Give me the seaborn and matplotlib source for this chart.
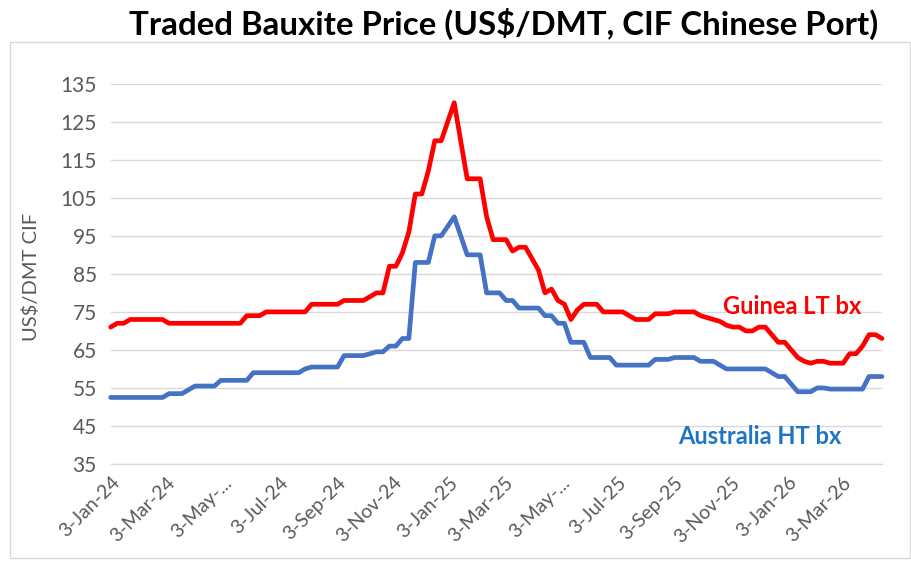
import matplotlib
matplotlib.use("Agg")
import matplotlib.pyplot as plt
import seaborn as sns
import pandas as pd
import numpy as np
from matplotlib.patches import Rectangle

# ---------------- data ----------------
start_date = "2024-01-03"
n_weeks = 120

guinea = [71, 72, 72, 73, 73, 73, 73, 73, 73,
          72, 72, 72, 72, 72, 72, 72, 72, 72, 72, 72, 72,
          74, 74, 74,
          75, 75, 75, 75, 75, 75, 75,
          77, 77, 77, 77, 77,
          78, 78, 78, 78,
          79, 80, 80,
          87, 87, 90.5, 96, 106, 106, 112, 120, 120, 125, 130, 120,
          110, 110, 110, 100, 94, 94, 94, 91, 92, 92, 89, 86, 80, 81, 78, 77, 73, 75.5,
          77, 77, 77, 75, 75, 75, 75, 74, 73, 73, 73,
          74.5, 74.5, 74.5, 75, 75, 75, 75, 74, 73.5, 73, 72.5, 71.5,
          71, 71, 70, 70, 71, 71, 69, 67, 67, 65, 63, 62, 61.5,
          62, 62, 61.5, 61.5, 61.5, 64, 64, 66, 69, 69, 68]

australia = [52.5, 52.5, 52.5, 52.5, 52.5, 52.5, 52.5, 52.5, 52.5,
             53.5, 53.5, 53.5,
             54.5,
             55.5, 55.5, 55.5, 55.5,
             57, 57, 57, 57, 57,
             59, 59, 59, 59, 59, 59, 59, 59,
             60,
             60.5, 60.5, 60.5, 60.5, 60.5,
             63.5, 63.5, 63.5, 63.5,
             64, 64.5, 64.5,
             66, 66,
             68, 68,
             88, 88, 88,
             95, 95,
             97.5, 100, 95,
             90, 90, 90,
             80, 80, 80,
             78, 78,
             76, 76, 76, 76,
             74, 74,
             72, 72,
             67, 67, 67,
             63, 63, 63, 63,
             61, 61, 61, 61, 61, 61,
             62.5, 62.5, 62.5,
             63, 63, 63, 63,
             62, 62, 62,
             61,
             60, 60, 60, 60, 60, 60, 60,
             59, 58, 58, 56,
             54, 54, 54,
             55, 55,
             54.7, 54.7, 54.7, 54.7, 54.7, 54.7,
             58, 58, 58]

series_names = ["Guinea LT bx", "Australia HT bx"]

tick_dates = ["2024-01-03", "2024-03-03", "2024-05-03", "2024-07-03", "2024-09-03",
              "2024-11-03", "2025-01-03", "2025-03-03", "2025-05-03", "2025-07-03",
              "2025-09-03", "2025-11-03", "2026-01-03", "2026-03-03"]
tick_labels = ["3-Jan-24", "3-Mar-24", "3-May-...", "3-Jul-24", "3-Sep-24",
               "3-Nov-24", "3-Jan-25", "3-Mar-25", "3-May-...", "3-Jul-25",
               "3-Sep-25", "3-Nov-25", "3-Jan-26", "3-Mar-26"]
y_ticks = [35, 45, 55, 65, 75, 85, 95, 105, 115, 125, 135]

title_text = r"Traded Bauxite Price (US\$/DMT, CIF Chinese Port)"
ylabel_text = r"US\$/DMT CIF"

# ---------------- style ----------------
sns.set_style("white")
plt.rcParams['font.family'] = ['Lato', 'DejaVu Sans']

dates = pd.date_range(start_date, periods=n_weeks, freq="7D")
df = pd.DataFrame({
    "date": list(dates) + list(dates),
    "price": guinea + australia,
    "series": [series_names[0]] * n_weeks + [series_names[1]] * n_weeks,
})

W, H = 911, 562
fig = plt.figure(figsize=(W / 100, H / 100), dpi=100)
fig.patch.set_facecolor("white")

left_px, right_px, top_px, bot_px = 110.7, 882.0, 83.7, 464.0
ax = fig.add_axes([left_px / W, (H - bot_px) / H, (right_px - left_px) / W, (bot_px - top_px) / H])

sns.lineplot(data=df, x="date", y="price", hue="series",
             palette={series_names[0]: "#FF0000", series_names[1]: "#4472C4"},
             linewidth=3.4, ax=ax, legend=False)
for ln in ax.lines:
    ln.set_clip_on(False)
    ln.set_solid_joinstyle("round")
    ln.set_solid_capstyle("round")

ax.set_xlim(dates[0], dates[-1])
ax.set_ylim(35, 135)
ax.set_yticks(y_ticks)
ax.set_xticks(pd.to_datetime(tick_dates))
ax.set_xticklabels(tick_labels, rotation=45, ha="right", rotation_mode="anchor")

ax.grid(axis="y", color="#D9D9D9", linewidth=1.0)
ax.grid(axis="x", visible=False)
ax.set_axisbelow(True)
for s in ["left", "right", "top"]:
    ax.spines[s].set_visible(False)
ax.spines["bottom"].set_color("#D9D9D9")
ax.spines["bottom"].set_linewidth(1.0)

ax.tick_params(axis="x", direction="out", length=4, width=1, color="#D9D9D9",
               labelsize=14, labelcolor="#595959", pad=3)
ax.tick_params(axis="y", length=0, labelsize=15, labelcolor="#595959", pad=10)

ax.set_xlabel("")
ax.set_ylabel(ylabel_text, fontsize=14.5, color="#595959")
ax.yaxis.set_label_coords((40 - left_px) / (right_px - left_px), (bot_px - 277) / (bot_px - top_px))

# series labels
ax.text((723 - left_px) / (right_px - left_px), (bot_px - 306) / (bot_px - top_px),
        series_names[0], transform=ax.transAxes, color="#FF0000", fontsize=17,
        fontweight="bold", ha="left", va="center")
ax.text((678 - left_px) / (right_px - left_px), (bot_px - 436) / (bot_px - top_px),
        series_names[1], transform=ax.transAxes, color="#1F74C4", fontsize=17,
        fontweight="bold", ha="left", va="center")

# chart border
fig.patches.append(Rectangle((10 / W, 4 / H), (910 - 10) / W, (558 - 42) / H,
                             transform=fig.transFigure, fill=False,
                             edgecolor="#D9D9D9", linewidth=1.0))

# title, fitted to width
t = fig.text((128 + 880) / 2 / W, (H - 35) / H, title_text, ha="center", va="baseline",
             fontsize=20, fontweight="bold", color="black")
fig.canvas.draw()
w = t.get_window_extent().width
t.set_fontsize(20 * 752 / w)

fig.savefig("out.png", dpi=100)
